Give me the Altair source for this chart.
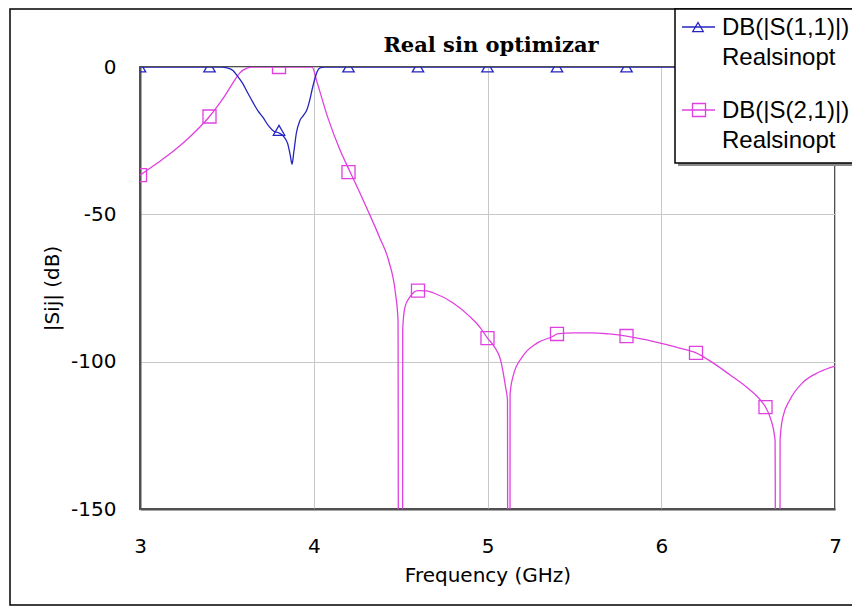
import altair as alt
import pandas as pd

# ---- data ----
x_ticks = [3, 4, 5, 6, 7]
y_ticks = [0, -50, -100, -150]

s11_freq = [3.0, 3.47, 3.50, 3.535, 3.56, 3.59, 3.62, 3.65, 3.68, 3.71, 3.74, 3.77, 3.80,
            3.83, 3.85, 3.865, 3.875, 3.885, 3.90, 3.92, 3.94, 3.96, 3.98, 3.99, 4.007,
            4.02, 4.036, 4.06, 7.0]
s11_db = [0, 0, -0.3, -1.2, -3.0, -5.5, -8.8, -12.0, -15.0, -17.3, -20.0, -21.8, -22.4,
          -23.8, -26.0, -30.0, -33.0, -29.0, -22.4, -18.2, -16.5, -14.6, -10.5, -7.8, -3.8,
          -1.5, -0.3, 0, 0]

s21_freq = [3.00, 3.10, 3.20, 3.30, 3.40, 3.44, 3.48, 3.535, 3.575, 3.615, 3.65,
            3.99, 4.02, 4.08, 4.15, 4.21, 4.26, 4.31, 4.38, 4.43, 4.47, 4.485, 4.488,
            4.511, 4.512, 4.525, 4.554, 4.60, 4.65, 4.69, 4.80, 4.90, 4.96, 5.00, 5.04,
            5.075, 5.104, 5.115, 5.117, 5.129, 5.13, 5.147, 5.20, 5.285, 5.38, 5.40, 5.50,
            5.60, 5.70, 5.80, 5.90, 6.00, 6.10, 6.20, 6.30, 6.396, 6.49, 6.57, 6.60, 6.626,
            6.655, 6.659, 6.683, 6.684, 6.70, 6.74, 6.816, 6.91, 7.00]
s21_db = [-36.7, -32.6, -28.2, -23.0, -16.8, -13.8, -10.5, -5.4, -2.0, -0.4, 0,
          0, -5.4, -17.0, -28.0, -35.7, -42.0, -48.5, -58.0, -65.5, -76.7, -85.9, -200,
          -200, -89.0, -81.5, -78.0, -75.9, -76.0, -76.7, -80.0, -84.8, -88.6, -92.0, -95.0,
          -99.4, -108.6, -113.0, -200, -200, -111.0, -105.0, -98.4, -93.7, -91.3, -90.6, -90.2,
          -90.2, -90.6, -91.3, -92.4, -93.8, -95.3, -97.0, -100.5, -104.5, -108.6, -113.0, -115.4, -118.8,
          -126.6, -200, -200, -126.6, -118.8, -113.0, -107.0, -103.5, -101.5]

marker_freq = [3.0, 3.4, 3.8, 4.2, 4.6, 5.0, 5.4, 5.8, 6.2, 6.6]
marker_s11 = [0, 0, -21.5, 0, 0, 0, 0, 0, 0, 0]
marker_s21 = [-36.7, -16.8, 0, -35.7, -75.9, -92.0, -90.6, -91.3, -97.0, -115.4]

legend_names = ["DB(|S(1,1)|)", "DB(|S(2,1)|)"]
legend_sub = ["Realsinopt", "Realsinopt"]
title_text = "Real sin optimizar"

BLUE = "#2424c0"
MAG = "#e040e0"

xs = alt.Scale(domain=[3, 7], nice=False, zero=False)
ys = alt.Scale(domain=[-150, 0], nice=False, zero=False)

x_axis = alt.Axis(values=x_ticks, grid=True, gridColor="#c8c8c8", gridWidth=1,
                  domainColor="#505050", domainWidth=2, ticks=False, tickSize=0,
                  labelExpr="'' + datum.value",
                  labelFont="DejaVu Sans", labelFontSize=20, labelColor="black",
                  labelPadding=43, labelBaseline="alphabetic", labelFlush=False,
                  title="Frequency (GHz)", titleFont="DejaVu Sans", titleFontSize=20,
                  titleFontWeight="normal", titleColor="black", titleBaseline="alphabetic",
                  titleY=72)
y_axis = alt.Axis(values=y_ticks, grid=True, gridColor="#c8c8c8", gridWidth=1,
                  domainColor="#505050", domainWidth=2, ticks=False, tickSize=0,
                  labelExpr="'' + datum.value",
                  labelFont="DejaVu Sans", labelFontSize=20, labelColor="black",
                  labelPadding=24, labelBaseline="middle", labelFlush=False,
                  title="|Sij| (dB)", titleFont="DejaVu Sans", titleFontSize=20,
                  titleFontWeight="normal", titleColor="black", titleBaseline="alphabetic",
                  titleAngle=270, titleAlign="center", titleX=-82, titleY=221)

df11 = pd.DataFrame({"f": s11_freq, "db": s11_db})
df21 = pd.DataFrame({"f": s21_freq, "db": s21_db})
dm = pd.DataFrame({"f": marker_freq, "s11": marker_s11, "s21": marker_s21})

line21 = alt.Chart(df21).mark_line(color=MAG, strokeWidth=1.3, clip=True, interpolate="monotone").encode(
    x=alt.X("f:Q", scale=xs, axis=x_axis), y=alt.Y("db:Q", scale=ys, axis=y_axis))
line11 = alt.Chart(df11).mark_line(color=BLUE, strokeWidth=1.3, clip=True, interpolate="monotone").encode(
    x=alt.X("f:Q", scale=xs), y=alt.Y("db:Q", scale=ys))
mk21 = alt.Chart(dm).mark_point(shape="square", size=170, filled=False, color=MAG,
                                strokeWidth=1.3, clip=True, opacity=1).encode(
    x=alt.X("f:Q", scale=xs), y=alt.Y("s21:Q", scale=ys))
mk11 = alt.Chart(dm).mark_point(shape="triangle-up", size=130, filled=False, color=BLUE,
                                strokeWidth=1.3, clip=True, opacity=1).encode(
    x=alt.X("f:Q", scale=xs), y=alt.Y("s11:Q", scale=ys))

one = pd.DataFrame({"a": [0]})

border = alt.Chart(one).mark_rect(fillOpacity=0, stroke="black", strokeWidth=1.5).encode(
    x=alt.value(-130), x2=alt.value(730), y=alt.value(-58), y2=alt.value(538))

title = alt.Chart(pd.DataFrame({"t": [title_text]})).mark_text(
    font="DejaVu Serif", fontSize=21, fontWeight="bold", color="black",
    align="center", baseline="alphabetic").encode(
    x=alt.value(351), y=alt.value(-15), text="t:N")

shadow = alt.Chart(one).mark_rect(color="#8a8a8a").encode(
    x=alt.value(538), x2=alt.value(730), y=alt.value(-55), y2=alt.value(99))
box = alt.Chart(one).mark_rect(fill="white", stroke="black", strokeWidth=1.5).encode(
    x=alt.value(535), x2=alt.value(730), y=alt.value(-58), y2=alt.value(96))

leg_rule11 = alt.Chart(one).mark_rule(color=BLUE, strokeWidth=1.3).encode(
    x=alt.value(542), x2=alt.value(575), y=alt.value(-40))
leg_rule21 = alt.Chart(one).mark_rule(color=MAG, strokeWidth=1.3).encode(
    x=alt.value(542), x2=alt.value(575), y=alt.value(43))
leg_pt11 = alt.Chart(one).mark_point(shape="triangle-up", size=110, filled=False, color=BLUE,
                                     strokeWidth=1.3, opacity=1).encode(
    x=alt.value(558), y=alt.value(-40))
leg_pt21 = alt.Chart(one).mark_point(shape="square", size=170, filled=False, color=MAG,
                                     strokeWidth=1.3, opacity=1).encode(
    x=alt.value(559), y=alt.value(43))


def leg_text(txt, ypix):
    return alt.Chart(pd.DataFrame({"t": [txt]})).mark_text(
        font="Liberation Sans", fontSize=24, color="black", align="left",
        baseline="alphabetic").encode(x=alt.value(582), y=alt.value(ypix), text="t:N")


chart = alt.layer(
    line21, line11, mk21, mk11, border, title,
    shadow, box, leg_rule11, leg_rule21, leg_pt11, leg_pt21,
    leg_text(legend_names[0], -32), leg_text(legend_sub[0], -2),
    leg_text(legend_names[1], 51), leg_text(legend_sub[1], 81),
).properties(
    width=695, height=442,
    padding={"left": 132, "top": 59, "right": 17, "bottom": 97},
    autosize=alt.AutoSizeParams(type="none"),
    background="white",
).configure_view(stroke="#505050", strokeWidth=2)

chart.save("out.html", embed_options={"renderer": "svg", "actions": False})
